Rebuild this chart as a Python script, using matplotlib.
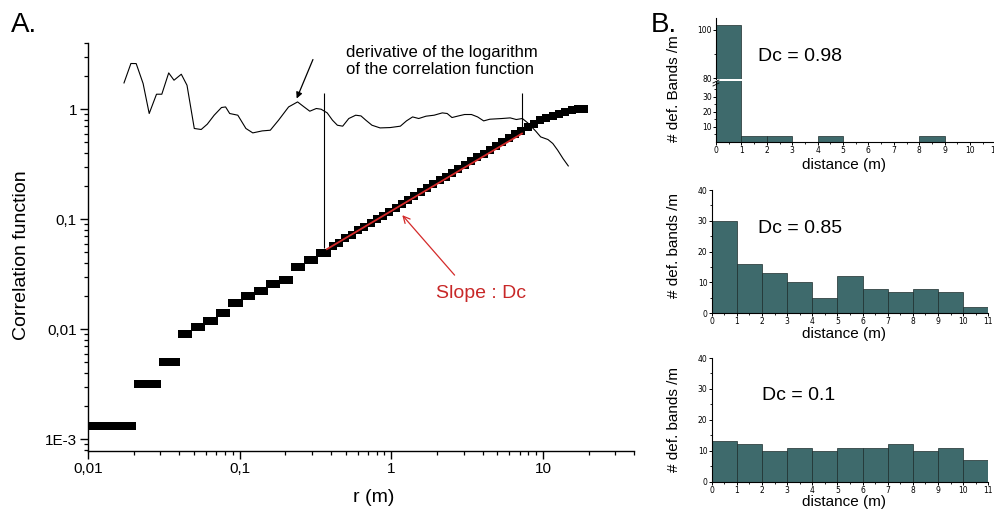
import matplotlib
matplotlib.use("Agg")
import matplotlib.pyplot as plt
from matplotlib.ticker import FixedLocator, FixedFormatter, LogLocator, NullFormatter, MultipleLocator
from matplotlib.lines import Line2D

plt.rcParams['font.family'] = ['Liberation Sans', 'DejaVu Sans']

# ---------------- data: panel A ----------------
r_values = [0.01, 0.011, 0.0121, 0.01331, 0.01464, 0.01611, 0.01772, 0.01949,
            0.02144, 0.02358, 0.02594, 0.02853, 0.03138, 0.03452, 0.03797,
            0.04177, 0.04595, 0.05054, 0.0556, 0.06116, 0.06727, 0.074, 0.0814,
            0.08954, 0.0985, 0.1083, 0.1192, 0.1311, 0.1442, 0.1586, 0.1745,
            0.1919, 0.2111, 0.2323, 0.2555, 0.281, 0.3091, 0.34, 0.374, 0.4114,
            0.4526, 0.4979, 0.5476, 0.6024, 0.6626, 0.7289, 0.8018, 0.882, 0.9702,
            1.067, 1.174, 1.291, 1.42, 1.562, 1.719, 1.891, 2.08, 2.288, 2.516,
            2.768, 3.045, 3.349, 3.684, 4.053, 4.458, 4.904, 5.394, 5.933, 6.527,
            7.18, 7.897, 8.687, 9.556, 10.51, 11.56, 12.72, 13.99, 15.4, 16.93, 18.62]

corr_values = [0.00133] * 8 + [0.0032] * 4 + [0.0050] * 3 + \
    [0.0090, 0.0090, 0.0104, 0.0104, 0.0118, 0.0118, 0.0141, 0.0141,
     0.0173, 0.0173, 0.0200, 0.0200, 0.0221, 0.0221, 0.0260, 0.0260,
     0.0279, 0.0279, 0.0364, 0.0364, 0.0424, 0.0424, 0.0488, 0.0488] + \
    [0.057, 0.061, 0.067, 0.072, 0.079, 0.085, 0.092, 0.100, 0.108, 0.117,
     0.127, 0.138, 0.150, 0.163, 0.176, 0.191, 0.207, 0.225, 0.243, 0.263,
     0.285, 0.310, 0.335, 0.364, 0.394, 0.427, 0.463, 0.502, 0.545, 0.590,
     0.640] + \
    [0.69, 0.74, 0.79, 0.83, 0.87, 0.91, 0.95, 0.98, 1.00, 1.01]

deriv_r = [0.01727, 0.01918, 0.02078, 0.02308, 0.02532, 0.02829, 0.03066, 0.03404,
           0.03689, 0.04121, 0.04494, 0.0502, 0.05575, 0.06114, 0.06788, 0.07586,
           0.08073, 0.0859, 0.0972, 0.1099, 0.122, 0.1407, 0.1591, 0.1803, 0.2101,
           0.2408, 0.2658, 0.2898, 0.3199, 0.3441, 0.3775, 0.4091, 0.4406, 0.4775,
           0.5239, 0.5817, 0.6304, 0.679, 0.7448, 0.8424, 0.982, 1.146, 1.257, 1.38,
           1.514, 1.691, 1.912, 2.166, 2.333, 2.509, 2.769, 3.037, 3.373, 3.70,
           4.059, 4.454, 5.359, 6.07, 6.66, 7.305, 8.014, 8.953, 9.643, 10.77,
           11.59, 12.48, 13.53, 14.66]
deriv_values = [1.734, 2.604, 2.60, 1.713, 0.914, 1.369, 1.369, 2.138, 1.835, 2.08,
                1.652, 0.668, 0.654, 0.731, 0.882, 1.036, 1.049, 0.914, 0.882, 0.668,
                0.609, 0.635, 0.644, 0.794, 1.049, 1.165, 1.049, 0.959, 1.015, 1.0,
                0.926, 0.794, 0.715, 0.701, 0.823, 0.882, 0.869, 0.794, 0.715, 0.676,
                0.681, 0.701, 0.783, 0.851, 0.823, 0.864, 0.882, 0.926, 0.914, 0.840,
                0.869, 0.895, 0.895, 0.851, 0.783, 0.811, 0.823, 0.834, 0.806, 0.823,
                0.741, 0.631, 0.560, 0.530, 0.488, 0.424, 0.356, 0.305]

fit_r = [0.376, 7.26]
fit_c = [0.0534, 0.601]
range_r = [0.36, 7.3]
range_low = [0.055, 0.66]
range_high = [1.39, 1.39]

x_ticks_a = [0.01, 0.1, 1, 10]
x_tick_labels_a = ['0,01', '0,1', '1', '10']
y_ticks_a = [1e-3, 1e-2, 1e-1, 1]
y_tick_labels_a = ['1E-3', '0,01', '0,1', '1']

# ---------------- data: panel B ----------------
bin_left = [0, 1, 2, 3, 4, 5, 6, 7, 8, 9, 10]
bands_098 = [102, 4, 4, 0, 4, 0, 0, 0, 4, 0, 0]
bands_085 = [30, 16, 13, 10, 5, 12, 8, 7, 8, 7, 2]
bands_010 = [13, 12, 10, 11, 10, 11, 11, 12, 10, 11, 7]
dc_labels = ['Dc = 0.98', 'Dc = 0.85', 'Dc = 0.1']

W, H = 994, 511
fig = plt.figure(figsize=(W / 100, H / 100), dpi=100)


def fx(px):
    return px / W


def fy(py):
    return 1 - py / H


def box(x0, y_bottom, x1, y_top):
    return [fx(x0), fy(y_bottom), (x1 - x0) / W, (y_bottom - y_top) / H]


# ---------------- panel A ----------------
ax = fig.add_axes(box(88, 451, 634.4, 43))
ax.set_xscale('log')
ax.set_yscale('log')
ax.set_xlim(0.01, 40)
ax.set_ylim(7.8e-4, 4)
for s in ('top', 'right'):
    ax.spines[s].set_visible(False)
for s in ('left', 'bottom'):
    ax.spines[s].set_linewidth(1.0)

ax.plot(r_values, corr_values, ls='none', marker='s', ms=5.8, mew=0,
        color='black', zorder=3)
ax.plot(deriv_r, deriv_values, color='black', lw=0.8, zorder=2)
ax.plot(fit_r, fit_c, color='#d42a2a', lw=1.3, zorder=4)
ax.vlines(range_r, range_low, range_high, color='black', lw=0.8, zorder=2)

ax.annotate('', xy=(0.2375, 1.25), xytext=(0.304, 2.83),
            arrowprops=dict(arrowstyle='-|>', color='black', lw=0.9,
                            mutation_scale=9, shrinkA=0, shrinkB=0))
ax.annotate('', xy=(1.18, 0.1088), xytext=(2.61, 0.031),
            arrowprops=dict(arrowstyle='->', color='#d42a2a', lw=0.9,
                            mutation_scale=12, shrinkA=0, shrinkB=0))

ax.xaxis.set_major_locator(FixedLocator(x_ticks_a))
ax.xaxis.set_major_formatter(FixedFormatter(x_tick_labels_a))
ax.yaxis.set_major_locator(FixedLocator(y_ticks_a))
ax.yaxis.set_major_formatter(FixedFormatter(y_tick_labels_a))
ax.xaxis.set_minor_locator(LogLocator(base=10, subs=range(2, 10), numticks=20))
ax.yaxis.set_minor_locator(LogLocator(base=10, subs=range(2, 10), numticks=20))
ax.xaxis.set_minor_formatter(NullFormatter())
ax.yaxis.set_minor_formatter(NullFormatter())
ax.tick_params(which='major', direction='out', length=6, width=1.0,
               labelsize=11, pad=2)
ax.tick_params(which='minor', direction='out', length=3.2, width=0.9)

fig.text(fx(374), fy(497), 'r (m)', fontsize=14, ha='center', va='center')
fig.text(fx(21.5), fy(255), 'Correlation function', fontsize=14,
         rotation=90, ha='center', va='center')
fig.text(fx(345.5), fy(61), 'derivative of the logarithm\nof the correlation function',
         fontsize=12, ha='left', va='center', linespacing=1.2)
fig.text(fx(481), fy(293), 'Slope : Dc', fontsize=14, color='#c82828',
         ha='center', va='center')
fig.text(fx(11), fy(32), 'A.', fontsize=20, ha='left', va='baseline')
fig.text(fx(651), fy(32), 'B.', fontsize=20, ha='left', va='baseline')

# ---------------- panel B ----------------
bar_color = '#3e6a6c'
edge_color = '#1c2c2c'


def style_hist(a, show_bottom=True):
    for s in ('top', 'right'):
        a.spines[s].set_visible(False)
    a.spines['left'].set_linewidth(0.8)
    a.spines['bottom'].set_linewidth(0.8)
    if not show_bottom:
        a.spines['bottom'].set_visible(False)
        a.tick_params(axis='x', which='both', bottom=False, labelbottom=False)
    a.set_xlim(0, 11)
    a.xaxis.set_major_locator(MultipleLocator(1))
    a.xaxis.set_minor_locator(MultipleLocator(0.5))
    a.tick_params(which='major', direction='out', length=2.0, width=0.7,
                  labelsize=5.5, pad=1.0)
    a.tick_params(which='minor', direction='out', length=1.2, width=0.6)
    for lab in a.get_xticklabels() + a.get_yticklabels():
        lab.set_family('DejaVu Sans')


# top histogram, split y axis
b1_low = fig.add_axes(box(716, 141.7, 995.4, 81))
b1_high = fig.add_axes(box(716, 79.3, 995.4, 18.3))
for a in (b1_low, b1_high):
    a.bar(bin_left, bands_098, width=1, align='edge', color=bar_color,
          edgecolor=edge_color, linewidth=0.5)
b1_low.set_ylim(0, 40.5)
b1_high.set_ylim(79.6, 104.8)
style_hist(b1_low)
style_hist(b1_high, show_bottom=False)
b1_low.yaxis.set_major_locator(FixedLocator([10, 20, 30]))
b1_low.yaxis.set_minor_locator(FixedLocator([5, 15, 25, 35]))
b1_high.yaxis.set_major_locator(FixedLocator([80, 100]))
b1_high.yaxis.set_minor_locator(FixedLocator([90]))
for lab in b1_low.get_xticklabels() + b1_low.get_yticklabels() + b1_high.get_yticklabels():
    lab.set_family('DejaVu Sans')
# break marks on the split axis
for dy in (0, 3):
    fig.add_artist(Line2D([fx(713), fx(719)], [fy(83 + dy), fy(80 + dy)],
                          color='black', lw=0.6))

b2 = fig.add_axes(box(711.7, 313.3, 988.3, 190))
b2.bar(bin_left, bands_085, width=1, align='edge', color=bar_color,
       edgecolor=edge_color, linewidth=0.5)
b2.set_ylim(0, 40)
b2.yaxis.set_major_locator(MultipleLocator(10))
b2.yaxis.set_minor_locator(MultipleLocator(5))
style_hist(b2)

b3 = fig.add_axes(box(711.7, 481.5, 988.3, 358))
b3.bar(bin_left, bands_010, width=1, align='edge', color=bar_color,
       edgecolor=edge_color, linewidth=0.5)
b3.set_ylim(0, 40)
b3.yaxis.set_major_locator(MultipleLocator(10))
b3.yaxis.set_minor_locator(MultipleLocator(5))
style_hist(b3)

fig.text(fx(800), fy(56.7), dc_labels[0], fontsize=14, ha='center', va='center')
fig.text(fx(800), fy(228.3), dc_labels[1], fontsize=14, ha='center', va='center')
fig.text(fx(799), fy(395.5), dc_labels[2], fontsize=14, ha='center', va='center')

for ytxt in (164.5, 334, 502):
    fig.text(fx(844), fy(ytxt), 'distance (m)', fontsize=11, ha='center', va='center')
fig.text(fx(673.5), fy(88.5), '# def. Bands /m', fontsize=11, rotation=90,
         ha='center', va='center')
fig.text(fx(674), fy(246), '# def. bands /m', fontsize=11, rotation=90,
         ha='center', va='center')
fig.text(fx(674), fy(420), '# def. bands /m', fontsize=11, rotation=90,
         ha='center', va='center')

fig.savefig('out.png', dpi=100)
